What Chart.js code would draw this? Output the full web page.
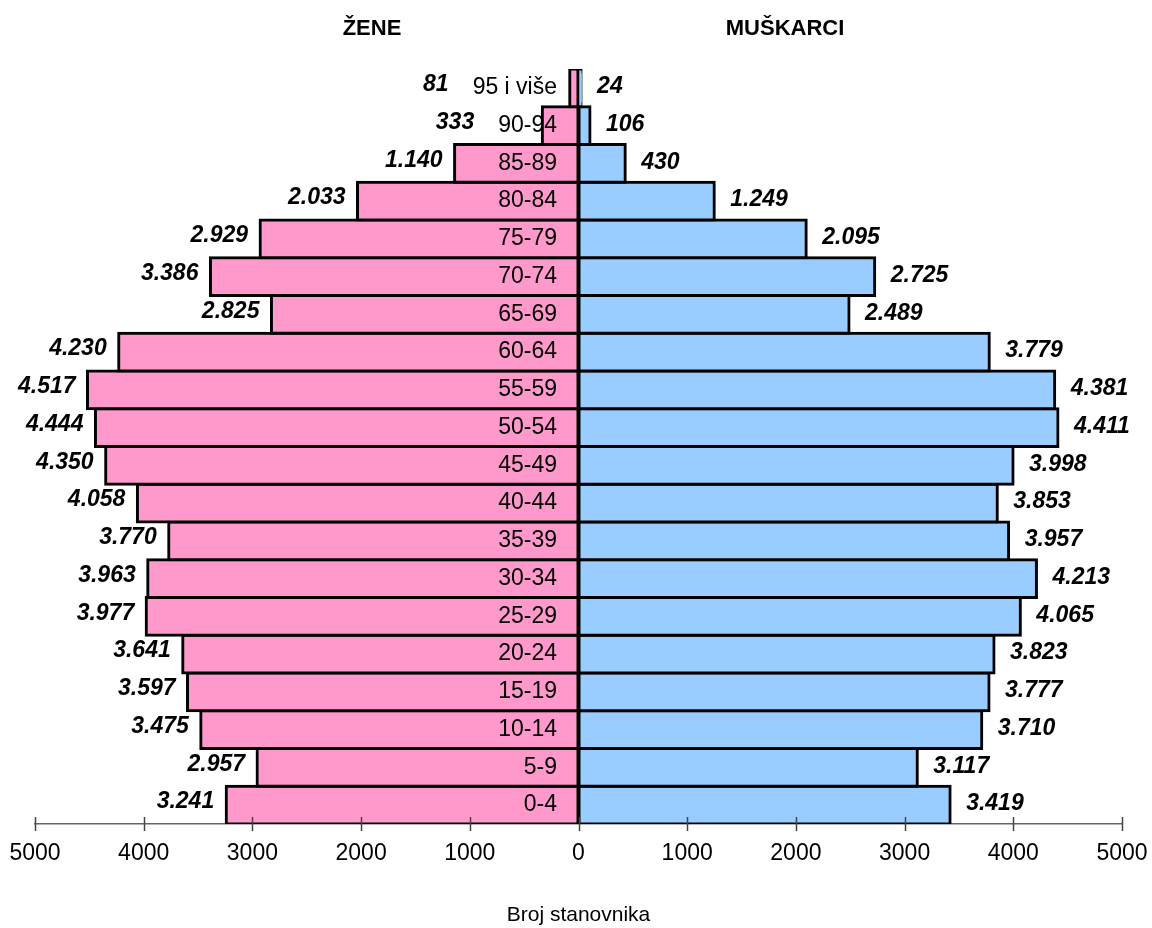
<!DOCTYPE html>
<html>
<head>
<meta charset="utf-8">
<title>Broj stanovnika</title>
<script src="https://cdn.jsdelivr.net/npm/chart.js@4.4.1/dist/chart.umd.min.js"></script>
<style>
  html, body { margin: 0; padding: 0; background: #fff; }
  #wrap { width: 1152px; height: 928px; }
</style>
</head>
<body>
<div id="wrap"><canvas id="pyramid" width="1152" height="928"></canvas></div>
<script>
// age groups, bottom to top
const ageGroups = ['0-4', '5-9', '10-14', '15-19', '20-24', '25-29', '30-34', '35-39', '40-44', '45-49',
                   '50-54', '55-59', '60-64', '65-69', '70-74', '75-79', '80-84', '85-89', '90-94', '95 i više'];
const zene = [3241, 2957, 3475, 3597, 3641, 3977, 3963, 3770, 4058, 4350,
              4444, 4517, 4230, 2825, 3386, 2929, 2033, 1140, 333, 81];
const muskarci = [3419, 3117, 3710, 3777, 3823, 4065, 4213, 3957, 3853, 3998,
                  4411, 4381, 3779, 2489, 2725, 2095, 1249, 430, 106, 24];
const xTicks = [-5000, -4000, -3000, -2000, -1000, 0, 1000, 2000, 3000, 4000, 5000];

const FONT = '"Liberation Sans", Arial, sans-serif';
Chart.defaults.font.family = FONT;
Chart.defaults.color = '#000';

// 3.241 style numbers
function fmt(n) {
    if (n < 1000) return String(n);
    return Math.floor(n / 1000) + '.' + String(n % 1000).padStart(3, '0');
}

const labelsPlugin = {
    id: 'pyramidLabels',
    afterDatasetsDraw(chart) {
        const ctx = chart.ctx;
        const xs = chart.scales.x;
        const women = chart.getDatasetMeta(0).data;
        const men = chart.getDatasetMeta(1).data;

        // tick marks crossing the axis
        ctx.save();
        ctx.strokeStyle = '#444';
        ctx.lineWidth = 1.5;
        xs.ticks.forEach(t => {
            const px = Math.round(xs.getPixelForValue(t.value)) + 0.5;
            ctx.beginPath();
            ctx.moveTo(px, xs.top - 7);
            ctx.lineTo(px, xs.top + 7);
            ctx.stroke();
        });
        ctx.restore();

        ctx.save();
        ctx.textBaseline = 'middle';
        ageGroups.forEach((age, i) => {
            const w = women[i], m = men[i];
            const zero = w.base;
            const y = w.y;

            // age group label
            ctx.font = '23px ' + FONT;
            ctx.textAlign = 'right';
            ctx.fillStyle = '#000';
            const catRight = zero - 21;
            ctx.fillText(age, catRight, y);
            const catLeft = catRight - ctx.measureText(age).width;

            // values
            ctx.font = 'italic bold 23px ' + FONT;
            ctx.textAlign = 'right';
            ctx.fillText(fmt(zene[i]), Math.min(w.x - 12, catLeft - 24), y - 3);
            ctx.textAlign = 'left';
            ctx.fillText(fmt(muskarci[i]), m.x + 16, y - 1);
        });

        // side titles
        ctx.font = 'bold 22px ' + FONT;
        ctx.textAlign = 'center';
        ctx.fillText('ŽENE', xs.getPixelForValue(-1900), 29);
        ctx.fillText('MUŠKARCI', xs.getPixelForValue(1900), 29);
        ctx.restore();
    }
};

const ctx = document.getElementById('pyramid').getContext('2d');
new Chart(ctx, {
    type: 'bar',
    data: {
        labels: ageGroups,
        datasets: [{
            label: 'Žene',
            data: zene.map(v => -v),
            backgroundColor: '#FF99CC',
            borderColor: '#000',
            borderWidth: 3,
            inflateAmount: 1.5,
            borderSkipped: false
        }, {
            label: 'Muškarci',
            data: muskarci,
            backgroundColor: '#99CCFF',
            borderColor: '#000',
            borderWidth: 3,
            inflateAmount: 1.5,
            borderSkipped: false
        }]
    },
    options: {
        indexAxis: 'y',
        responsive: false,
        animation: false,
        datasets: { bar: { barPercentage: 1, categoryPercentage: 1 } },
        layout: { padding: { top: 69, left: 35, right: 30, bottom: 0 } },
        plugins: { legend: { display: false }, tooltip: { enabled: false } },
        scales: {
            y: {
                stacked: true,
                reverse: true,
                display: false
            },
            x: {
                stacked: true,
                min: -5000,
                max: 5000,
                afterBuildTicks: s => { s.ticks = xTicks.map(v => ({ value: v })); },
                afterFit: s => {
                    s.height = 104;
                    s.paddingLeft = 0;
                    s.paddingRight = 0;
                },
                grid: { display: true, drawOnChartArea: false, drawTicks: false },
                border: { display: true, color: '#666', width: 1.5 },
                ticks: {
                    padding: 16,
                    maxRotation: 0,
                    autoSkip: false,
                    font: { size: 23 },
                    color: '#000',
                    callback: v => String(Math.abs(v))
                },
                title: {
                    display: true,
                    text: 'Broj stanovnika',
                    font: { size: 21 },
                    color: '#000',
                    padding: { top: 0, bottom: 0 }
                }
            }
        }
    },
    plugins: [labelsPlugin]
});
</script>
</body>
</html>
